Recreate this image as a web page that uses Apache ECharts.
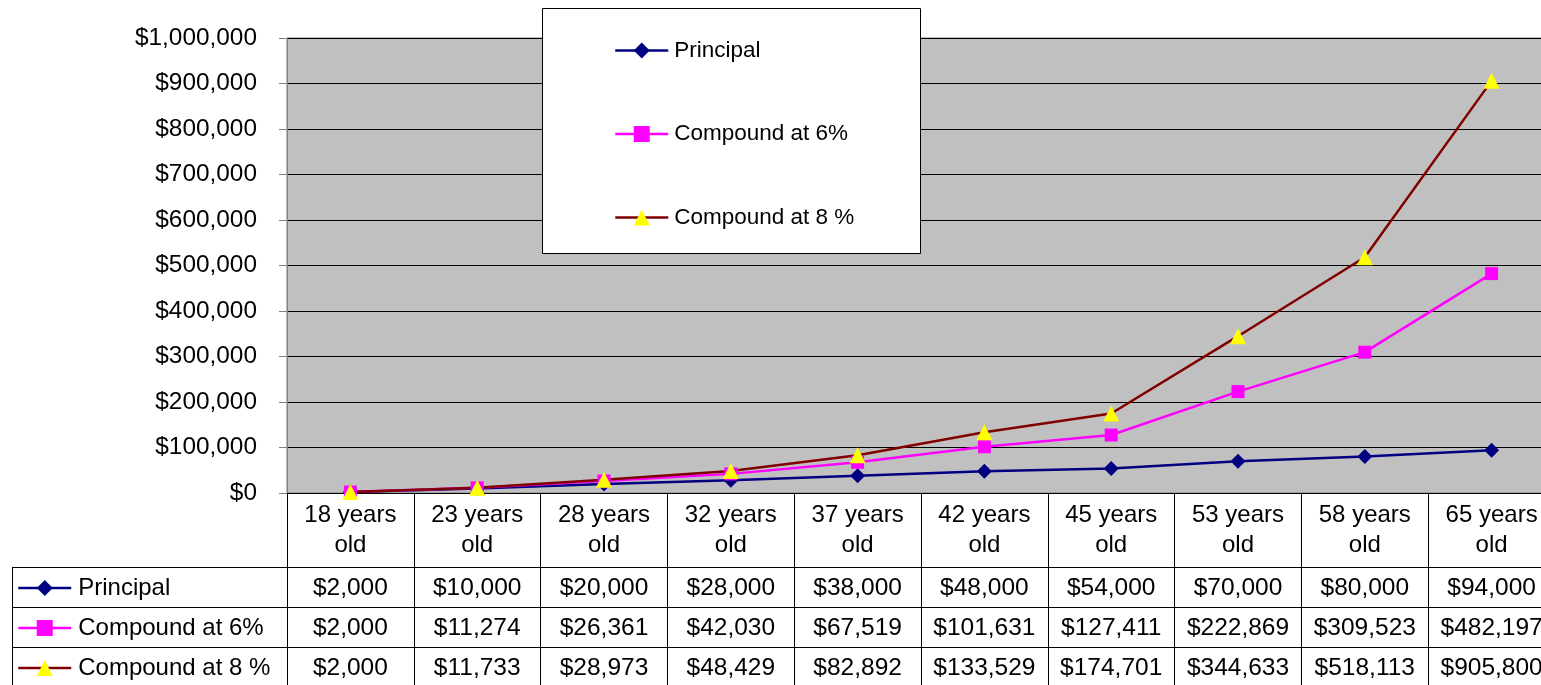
<!DOCTYPE html>
<html>
<head>
<meta charset="utf-8">
<script src="https://cdn.jsdelivr.net/npm/echarts@6/dist/echarts.min.js"></script>
<style>
  html, body { margin: 0; padding: 0; overflow: hidden; background: #ffffff; }
  #chart { width: 1560px; height: 685px; }
</style>
</head>
<body>
<div id="chart"></div>
<script>
const ages = ["18 years\nold", "23 years\nold", "28 years\nold", "32 years\nold", "37 years\nold",
  "42 years\nold", "45 years\nold", "53 years\nold", "58 years\nold", "65 years\nold"];
const principal = [2000, 10000, 20000, 28000, 38000, 48000, 54000, 70000, 80000, 94000];
const compound6 = [2000, 11274, 26361, 42030, 67519, 101631, 127411, 222869, 309523, 482197];
const compound8 = [2000, 11733, 28973, 48429, 82892, 133529, 174701, 344633, 518113, 905800];
const seriesNames = ["Principal", "Compound at 6%", "Compound at 8 %"];

const font = '"Liberation Sans", Arial, sans-serif';
const money = v => "$" + v.toLocaleString("en-US");

// plot area in pixels
const gridLeft = 287, gridTop = 38, gridW = 1268, gridH = 455;
const rows = [principal, compound6, compound8];

// one extra category axis per table row, just to print its values in the cells
const rowAxes = rows.map((row, r) => ({
  type: "category",
  data: ages,
  gridIndex: 0,
  position: "bottom",
  offset: 83 + r * 40,
  axisLine: { show: false },
  axisTick: { show: false },
  axisLabel: {
    interval: 0, margin: 0, fontFamily: font, fontSize: 24.5, lineHeight: 24, color: "#000",
    formatter: (v, i) => money(row[i])
  }
}));

const chart = echarts.init(document.getElementById("chart"));
chart.setOption({
  animation: false,
  grid: {
    left: gridLeft, top: gridTop, width: gridW, height: gridH,
    show: true, backgroundColor: "#C0C0C0", borderColor: "#808080", borderWidth: 1
  },
  xAxis: [{
    type: "category",
    data: ages,
    boundaryGap: true,
    axisLine: { lineStyle: { color: "#000", width: 1 } },
    axisTick: { show: true, interval: 0, length: 195, lineStyle: { color: "#000", width: 1 } },
    axisLabel: { interval: 0, margin: 7, fontFamily: font, fontSize: 24, lineHeight: 30, color: "#000" }
  }].concat(rowAxes),
  yAxis: {
    type: "value",
    min: 0, max: 1000000, interval: 100000,
    axisLine: { show: true, lineStyle: { color: "#808080", width: 1 } },
    axisTick: { show: true, length: 8, lineStyle: { color: "#808080" } },
    splitLine: { lineStyle: { color: "#000", width: 1 } },
    axisLabel: { margin: 30, fontFamily: font, fontSize: 24.4, color: "#000", formatter: money }
  },
  legend: [{
    orient: "vertical",
    left: 614, top: 39,
    itemWidth: 53, itemHeight: 20, itemGap: 60.5,
    padding: 0,
    lineStyle: { width: 2.5 },
    textStyle: { fontFamily: font, fontSize: 22.5, lineHeight: 22, color: "#000", padding: [0, 0, 0, 1] },
    data: seriesNames
  }, {
    orient: "vertical",
    left: 17, top: 576,
    itemWidth: 53, itemHeight: 20, itemGap: 16,
    padding: 0,
    lineStyle: { width: 2.5 },
    textStyle: { fontFamily: font, fontSize: 24, lineHeight: 24, color: "#000", padding: [0, 0, 0, 2] },
    data: seriesNames
  }],
  graphic: [
    { type: "rect", z: 3, shape: { x: 542.5, y: 8.5, width: 378, height: 245 },
      style: { fill: "#fff", stroke: "#000", lineWidth: 1 } },
    { type: "line", shape: { x1: 12, y1: 567.5, x2: 1560, y2: 567.5 }, style: { stroke: "#000", lineWidth: 1 } },
    { type: "line", shape: { x1: 12, y1: 607.5, x2: 1560, y2: 607.5 }, style: { stroke: "#000", lineWidth: 1 } },
    { type: "line", shape: { x1: 12, y1: 647.5, x2: 1560, y2: 647.5 }, style: { stroke: "#000", lineWidth: 1 } },
    { type: "line", shape: { x1: 12.5, y1: 567, x2: 12.5, y2: 685 }, style: { stroke: "#000", lineWidth: 1 } }
  ],
  series: [{
    name: seriesNames[0], type: "line", data: principal,
    symbol: "diamond", symbolSize: 15,
    itemStyle: { color: "#000080" }, lineStyle: { color: "#000080", width: 2.5 }
  }, {
    name: seriesNames[1], type: "line", data: compound6,
    symbol: "rect", symbolSize: 13,
    itemStyle: { color: "#FF00FF" }, lineStyle: { color: "#FF00FF", width: 2.5 }
  }, {
    name: seriesNames[2], type: "line", data: compound8,
    symbol: "triangle", symbolSize: 16,
    itemStyle: { color: "#FFFF00" }, lineStyle: { color: "#800000", width: 2.5 }
  }]
});
</script>
</body>
</html>
